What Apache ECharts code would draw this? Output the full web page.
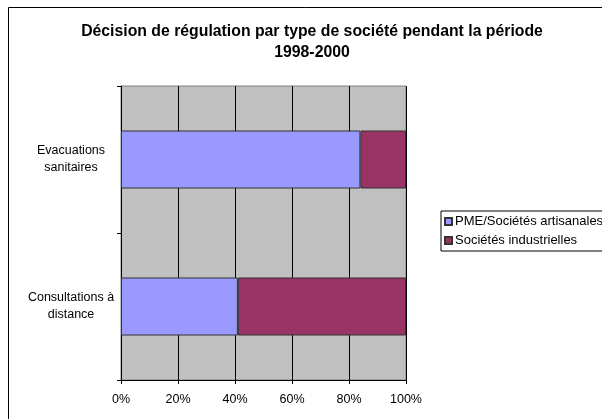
<!DOCTYPE html>
<html><head><meta charset="utf-8">
<script src="https://cdn.jsdelivr.net/npm/echarts@6/dist/echarts.min.js"></script>
<style>html,body{margin:0;padding:0;background:#fff}#c{width:602px;height:419px}</style>
</head><body><div id="c"></div>
<script>
const categories = ['Consultations à\ndistance', 'Evacuations\nsanitaires'];
const seriesNames = ['PME/Sociétés artisanales', 'Sociétés industrielles'];
const pmeValues = [41, 84];
const industrialValues = [59, 16];
const tickLabels = ['0%', '20%', '40%', '60%', '80%', '100%'];

const chart = echarts.init(document.getElementById('c'), null, {renderer: 'canvas'});
const font = 'Liberation Sans, Arial, sans-serif';
chart.setOption({
  backgroundColor: '#fff',
  animation: false,
  title: {
    text: 'Décision de régulation par type de société pendant la période\n1998-2000',
    left: 307, top: 16, textAlign: 'center',
    textStyle: {fontFamily: font, fontSize: 15.8, fontWeight: 'bold', color: '#000', lineHeight: 21}
  },
  graphic: [{
    type: 'rect', shape: {x: 8.5, y: 7.5, width: 700, height: 500},
    style: {fill: null, stroke: '#000', lineWidth: 1}, z: 100
  }],
  legend: {
    orient: 'vertical', left: 441, top: 211,
    data: seriesNames,
    itemWidth: 7, itemHeight: 7, itemGap: 6, icon: 'rect',
    padding: [4, 6, 4, 3],
    borderColor: '#000', borderWidth: 1,
    textStyle: {fontFamily: font, fontSize: 13, color: '#000', padding: [0, 0, 0, -2]}
  },
  grid: {
    left: 121, right: 196, top: 86, bottom: 39,
    show: true, backgroundColor: '#C0C0C0', borderColor: '#808080', borderWidth: 1
  },
  xAxis: {
    type: 'value', min: 0, max: 100, interval: 20,
    axisLine: {show: true, lineStyle: {color: '#000'}},
    axisTick: {show: true, length: 4, lineStyle: {color: '#000'}},
    splitLine: {show: true, lineStyle: {color: '#000', width: 1}},
    axisLabel: {
      formatter: function (v) { return tickLabels[Math.round(v / 20)]; },
      fontFamily: font, fontSize: 12.5, color: '#000', margin: 13
    }
  },
  yAxis: {
    type: 'category', data: categories,
    axisLine: {show: true, lineStyle: {color: '#000'}},
    axisTick: {show: true, length: 4, lineStyle: {color: '#000'}},
    axisLabel: {fontFamily: font, fontSize: 12.5, color: '#000', align: 'center', margin: 50, lineHeight: 17}
  },
  series: [{
    name: seriesNames[0], type: 'bar', stack: 'a', data: pmeValues, barWidth: 58,
    itemStyle: {color: '#9999FF', borderColor: '#333', borderWidth: 1}
  }, {
    name: seriesNames[1], type: 'bar', stack: 'a', data: industrialValues, barWidth: 58,
    itemStyle: {color: '#993366', borderColor: '#333', borderWidth: 1}
  }]
});
</script></body></html>
